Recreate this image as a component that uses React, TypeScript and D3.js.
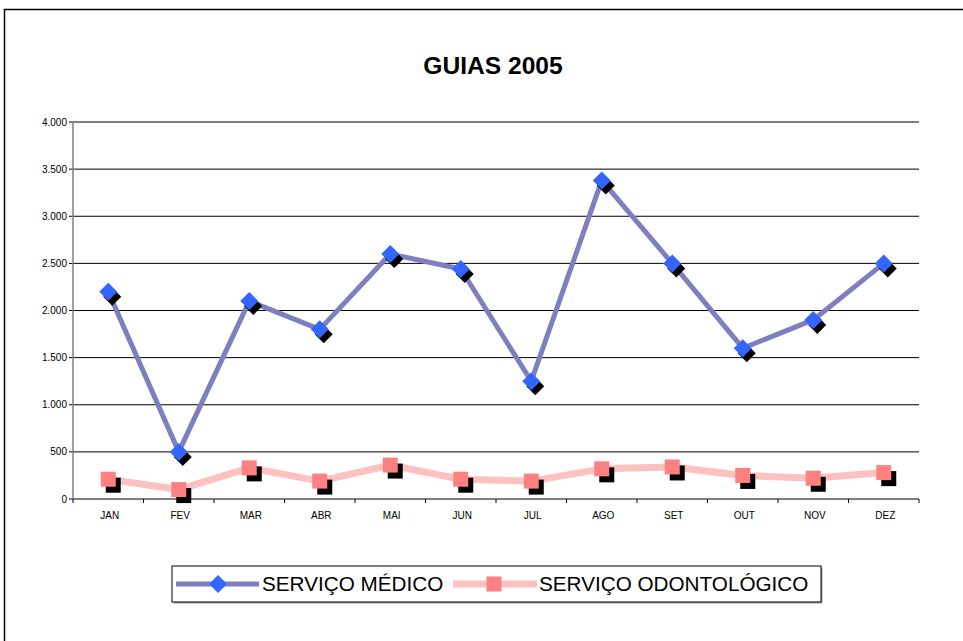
import React from "react";
import * as d3 from "d3";

const months = ["JAN", "FEV", "MAR", "ABR", "MAI", "JUN", "JUL", "AGO", "SET", "OUT", "NOV", "DEZ"];
const medico = [2200, 500, 2100, 1800, 2600, 2440, 1250, 3380, 2500, 1600, 1900, 2500];
const odonto = [210, 100, 330, 190, 360, 210, 190, 320, 340, 250, 220, 280];
const yTicks = [0, 500, 1000, 1500, 2000, 2500, 3000, 3500, 4000];
const seriesNames = ["SERVIÇO MÉDICO", "SERVIÇO ODONTOLÓGICO"];

const W = 963;
const H = 641;
const plot = { left: 73, right: 919, top: 122, bottom: 499 };

const fmt = (v: number) => (v === 0 ? "0" : d3.format(",")(v).replace(/,/g, "."));

export default function App() {
  const x = d3.scaleBand<string>().domain(months).range([plot.left, plot.right]);
  const y = d3.scaleLinear().domain([0, 4000]).range([plot.bottom, plot.top]);
  const cx = (m: string) => (x(m) as number) + x.bandwidth() / 2;
  const line = d3
    .line<number>()
    .x((_, i) => cx(months[i]))
    .y((d) => y(d));
  const font = "'Liberation Sans', Arial, sans-serif";
  const dsz = 9;
  const ssz = 7.5;
  const diamond = (px: number, py: number) =>
    `M${px},${py - dsz}L${px + dsz},${py}L${px},${py + dsz}L${px - dsz},${py}Z`;

  return (
    <svg
      width={W}
      height={H}
      style={{ position: "absolute", left: 0, top: 0, background: "#fff" }}
      fontFamily={font}
    >
      <rect x={4.5} y={9.5} width={W + 20} height={H + 20} fill="#fff" stroke="#000" strokeWidth={1.5} />
      <text x={493} y={74} textAnchor="middle" fontSize={24.6} fontWeight="bold">
        GUIAS 2005
      </text>
      {yTicks.map((t) => (
        <g key={t}>
          <line x1={plot.left} x2={plot.right} y1={y(t)} y2={y(t)} stroke="#000" strokeWidth={1} />
          <line x1={plot.left - 4} x2={plot.left} y1={y(t)} y2={y(t)} stroke="#000" strokeWidth={1} />
          <text x={plot.left - 6} y={y(t) + 3.5} textAnchor="end" fontSize={10}>
            {fmt(t)}
          </text>
        </g>
      ))}
      <line x1={plot.left} x2={plot.left} y1={plot.top} y2={plot.bottom} stroke="#808080" strokeWidth={1.5} />
      {months.concat(["_end"]).map((m, i) => {
        const px = plot.left + i * x.bandwidth();
        return <line key={m} x1={px} x2={px} y1={plot.bottom} y2={plot.bottom + 4} stroke="#000" strokeWidth={1} />;
      })}
      {months.map((m) => (
        <text key={m} x={cx(m) + 1.5} y={519} textAnchor="middle" fontSize={10}>
          {m}
        </text>
      ))}
      <path d={line(medico) || ""} fill="none" stroke="#7f7fbf" strokeWidth={5} strokeLinejoin="round" />
      {medico.map((v, i) => (
        <path key={"ms" + i} d={diamond(cx(months[i]) + 4, y(v) + 5)} fill="#000" />
      ))}
      {medico.map((v, i) => (
        <path key={"m" + i} d={diamond(cx(months[i]), y(v))} fill="#3366ff" />
      ))}
      <path d={line(odonto) || ""} fill="none" stroke="#ffc0c0" strokeWidth={7} strokeLinejoin="round" />
      {odonto.map((v, i) => (
        <rect key={"os" + i} x={cx(months[i]) - ssz + 5} y={y(v) - ssz + 6} width={ssz * 2} height={ssz * 2} fill="#000" />
      ))}
      {odonto.map((v, i) => (
        <rect key={"o" + i} x={cx(months[i]) - ssz} y={y(v) - ssz} width={ssz * 2} height={ssz * 2} fill="#ff8080" />
      ))}
      <rect x={173.5} y={567.5} width={649} height={36} fill="#a0a0a0" />
      <rect x={172} y={566} width={649} height={36} fill="#fff" stroke="#000" strokeWidth={1} />
      <line x1={176} x2={259} y1={584} y2={584} stroke="#7f7fbf" strokeWidth={5} />
      <path d={diamond(218, 584)} fill="#3366ff" />
      <text x={262} y={591} fontSize={20.7}>
        {seriesNames[0]}
      </text>
      <line x1={453} x2={537} y1={584} y2={584} stroke="#ffc0c0" strokeWidth={7} />
      <rect x={494 - ssz} y={584 - ssz} width={ssz * 2} height={ssz * 2} fill="#ff8080" />
      <text x={539} y={591} fontSize={20.7}>
        {seriesNames[1]}
      </text>
    </svg>
  );
}
